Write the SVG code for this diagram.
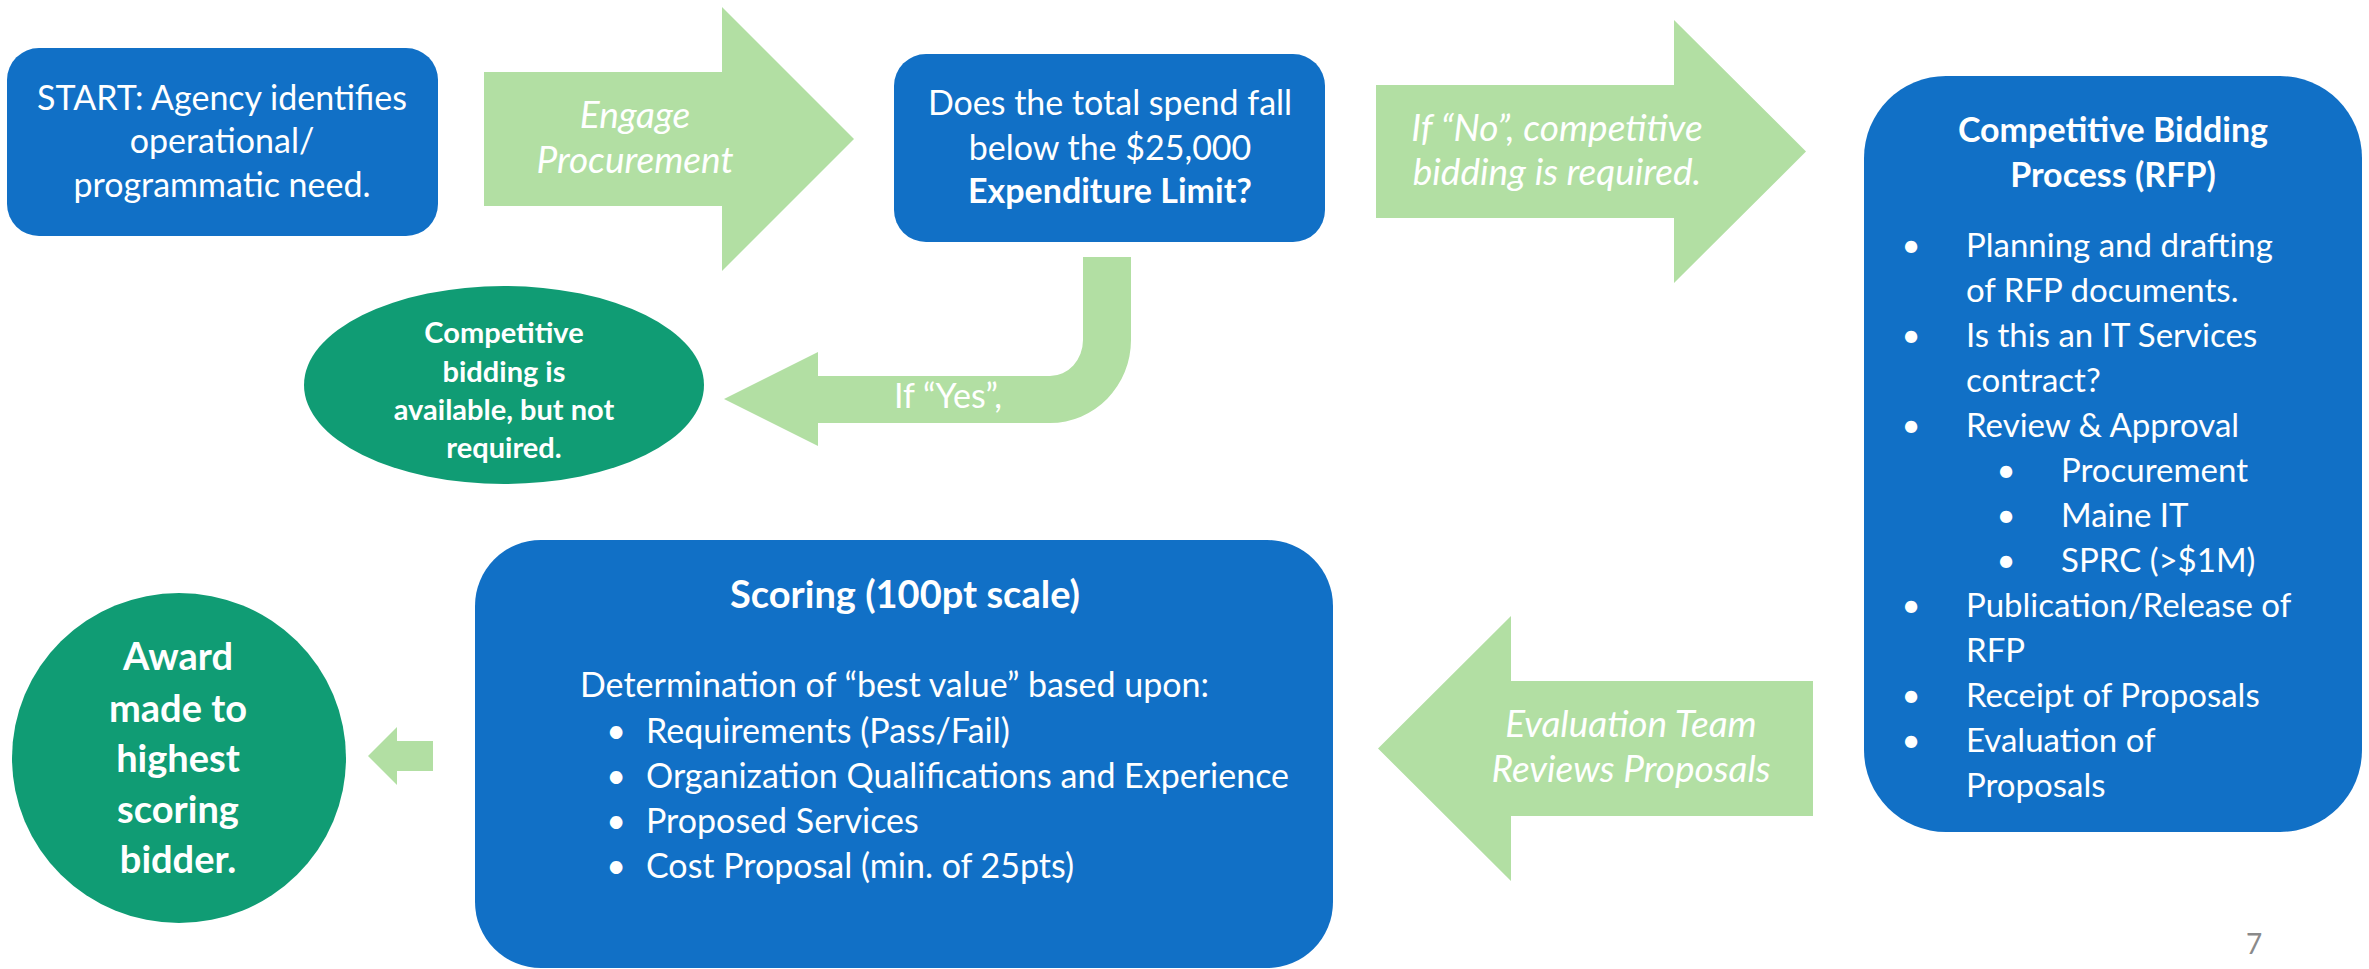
<svg xmlns="http://www.w3.org/2000/svg" width="2369" height="969" viewBox="0 0 2369 969">
  <style>
    .box { fill: #1170C6; }
    .term { fill: #109C74; }
    .flow { fill: #B2DFA3; }
    text { font-family: Lato, "Open Sans", "Liberation Sans", sans-serif; fill: #FFFFFF; }
    .c { text-anchor: middle; }
    .b { font-weight: bold; }
    .i { font-style: italic; font-size: 37px; }
    .t33 { font-size: 33px; }
    .t29 { font-size: 29px; }
    .t38 { font-size: 38px; }
    .t34 { font-size: 34px; }
    .pg { font-size: 28px; fill: #8A8A8A; }
  </style>

  <!-- connectors: block arrows with their labels -->
  <g id="connectors">
    <g id="arrow-engage">
      <path class="flow" d="M 484 72 L 722 72 L 722 7 L 854 139 L 722 271 L 722 206 L 484 206 Z"/>
      <text class="i c" x="635" y="128">Engage</text>
      <text class="i c" x="635" y="173">Procurement</text>
    </g>
    <g id="arrow-no">
      <path class="flow" d="M 1376 85 L 1674 85 L 1674 20 L 1806 151.5 L 1674 283 L 1674 218 L 1376 218 Z"/>
      <text class="i c" x="1557" y="141">If “No”, competitive</text>
      <text class="i c" x="1557" y="185">bidding is required.</text>
    </g>
    <g id="arrow-yes">
      <path class="flow" d="M 1083 257 L 1131 257 L 1131 340 A 81 83 0 0 1 1050 423 L 818 423 L 818 446 L 724 399 L 818 352 L 818 376 L 1050 376 A 33 36 0 0 0 1083 340 Z"/>
      <text class="t34 c" x="948" y="408">If “Yes”,</text>
    </g>
    <g id="arrow-evaluation">
      <path class="flow" d="M 1813 681 L 1511 681 L 1511 616 L 1378 748.5 L 1511 881 L 1511 816 L 1813 816 Z"/>
      <text class="i c" x="1631" y="737">Evaluation Team</text>
      <text class="i c" x="1631" y="782">Reviews Proposals</text>
    </g>
    <g id="arrow-award">
      <path class="flow" d="M 433 741 L 397 741 L 397 727 L 368 756 L 397 785 L 397 771 L 433 771 Z"/>
    </g>
  </g>

  <!-- start -->
  <g id="node-start">
    <rect class="box" x="7" y="48" width="431" height="188" rx="32" ry="32"/>
    <text class="t34 c" x="222" y="110">START: Agency identifies</text>
    <text class="t34 c" x="222" y="153">operational/</text>
    <text class="t34 c" x="222" y="197">programmatic need.</text>
  </g>

  <!-- threshold decision -->
  <g id="node-threshold">
    <rect class="box" x="894" y="54" width="431" height="188" rx="32" ry="32"/>
    <text class="t34 c" x="1110" y="115">Does the total spend fall</text>
    <text class="t34 c" x="1110" y="160">below the $25,000</text>
    <text class="t34 c b" x="1110" y="203">Expenditure Limit?</text>
  </g>

  <!-- optional bidding outcome -->
  <g id="node-optional">
    <ellipse class="term" cx="504" cy="385" rx="200" ry="99"/>
    <text class="t29 c b" x="504" y="343">Competitive</text>
    <text class="t29 c b" x="504" y="382">bidding is</text>
    <text class="t29 c b" x="504" y="420">available, but not</text>
    <text class="t29 c b" x="504" y="458">required.</text>
  </g>

  <!-- RFP process -->
  <g id="node-rfp">
    <rect class="box" x="1864" y="76" width="498" height="756" rx="82" ry="82"/>
    <text class="t34 c b" x="2113" y="142">Competitive Bidding</text>
    <text class="t34 c b" x="2113" y="187">Process (RFP)</text>
    <g class="t33">
      <text x="1911" y="257" class="c">•</text>
      <text x="1966" y="257">Planning and drafting</text>
      <text x="1966" y="302">of RFP documents.</text>
      <text x="1911" y="347" class="c">•</text>
      <text x="1966" y="347">Is this an IT Services</text>
      <text x="1966" y="392">contract?</text>
      <text x="1911" y="437" class="c">•</text>
      <text x="1966" y="437">Review &amp; Approval</text>
      <text x="2006" y="482" class="c">•</text>
      <text x="2061" y="482">Procurement</text>
      <text x="2006" y="527" class="c">•</text>
      <text x="2061" y="527">Maine IT</text>
      <text x="2006" y="572" class="c">•</text>
      <text x="2061" y="572">SPRC (&gt;$1M)</text>
      <text x="1911" y="617" class="c">•</text>
      <text x="1966" y="617">Publication/Release of</text>
      <text x="1966" y="662">RFP</text>
      <text x="1911" y="707" class="c">•</text>
      <text x="1966" y="707">Receipt of Proposals</text>
      <text x="1911" y="752" class="c">•</text>
      <text x="1966" y="752">Evaluation of</text>
      <text x="1966" y="797">Proposals</text>
    </g>
  </g>

  <!-- scoring -->
  <g id="node-scoring">
    <rect class="box" x="475" y="540" width="858" height="428" rx="66" ry="66"/>
    <text class="t38 c b" x="905" y="608">Scoring (100pt scale)</text>
    <g class="t34">
      <text x="580" y="697">Determination of “best value” based upon:</text>
      <text x="616" y="743" class="c">•</text>
      <text x="646" y="743">Requirements (Pass/Fail)</text>
      <text x="616" y="788" class="c">•</text>
      <text x="646" y="788">Organization Qualifications and Experience</text>
      <text x="616" y="833" class="c">•</text>
      <text x="646" y="833">Proposed Services</text>
      <text x="616" y="878" class="c">•</text>
      <text x="646" y="878">Cost Proposal (min. of 25pts)</text>
    </g>
  </g>

  <!-- award -->
  <g id="node-award">
    <ellipse class="term" cx="179" cy="758" rx="167" ry="165"/>
    <text class="t38 c b" x="178" y="670">Award</text>
    <text class="t38 c b" x="178" y="722">made to</text>
    <text class="t38 c b" x="178" y="772">highest</text>
    <text class="t38 c b" x="178" y="823">scoring</text>
    <text class="t38 c b" x="178" y="873">bidder.</text>
  </g>

  <text class="pg c" x="2254" y="954">7</text>
</svg>
